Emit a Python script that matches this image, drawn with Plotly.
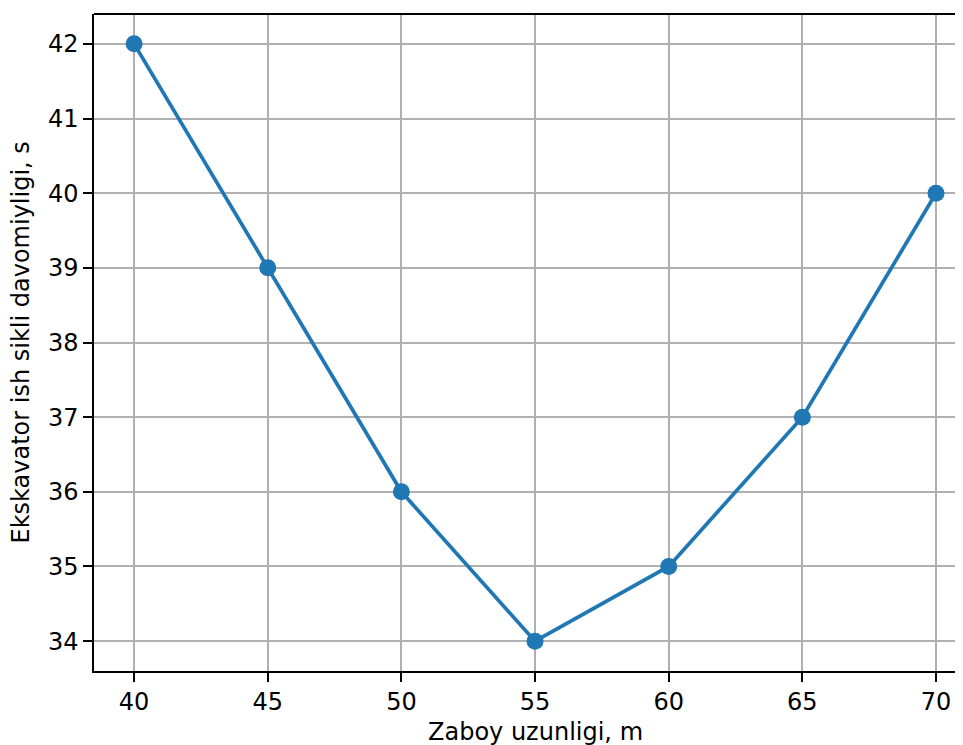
import plotly.graph_objects as go

x_values = [40, 45, 50, 55, 60, 65, 70]
y_values = [42, 39, 36, 34, 35, 37, 40]
x_label = "Zaboy uzunligi, m"
y_label = "Ekskavator ish sikli davomiyligi, s"
x_ticks = [40, 45, 50, 55, 60, 65, 70]
y_ticks = [34, 35, 36, 37, 38, 39, 40, 41, 42]

# page body has an 8px margin; place the plot where the reference has it
OFF = 8
W, H = 963, 745 - OFF
L, T, B = 94 - OFF, 14 - OFF, 74
ppu = 801.9 / 30.0
x0 = 38.5
x1 = x0 + (W - L) / ppu

font = dict(family="DejaVu Sans", size=24, color="black")

fig = go.Figure()
fig.add_trace(go.Scatter(
    x=x_values, y=y_values, mode="lines+markers",
    line=dict(color="#1f77b4", width=3.7),
    marker=dict(color="#1f77b4", size=17),
    showlegend=False,
))

axis_common = dict(
    showgrid=True, gridcolor="#b0b0b0", gridwidth=2,
    showline=True, linecolor="black", linewidth=2,
    ticks="outside", ticklen=8.6, tickwidth=2, tickcolor="black",
    tickfont=font, zeroline=False,
)
fig.update_xaxes(range=[x0, x1], tickvals=x_ticks, **axis_common)
fig.update_yaxes(range=[33.6, 42.4], tickvals=y_ticks, **axis_common)

fig.add_shape(type="line", xref="paper", yref="paper", x0=0, x1=1, y0=1, y1=1,
              line=dict(color="black", width=2))

fig.add_annotation(text=x_label, x=55, xref="x", y=0, yref="paper",
                   xanchor="center", yanchor="middle", yshift=-61,
                   showarrow=False, font=font)
fig.add_annotation(text=y_label, x=0, xref="paper", y=0.5, yref="paper",
                   xanchor="center", yanchor="middle", xshift=-74,
                   textangle=-90, showarrow=False, font=font)

fig.update_layout(
    width=W, height=H,
    margin=dict(l=L, r=0, t=T, b=B, pad=0),
    plot_bgcolor="white", paper_bgcolor="white",
)

fig.write_html("out.html")
